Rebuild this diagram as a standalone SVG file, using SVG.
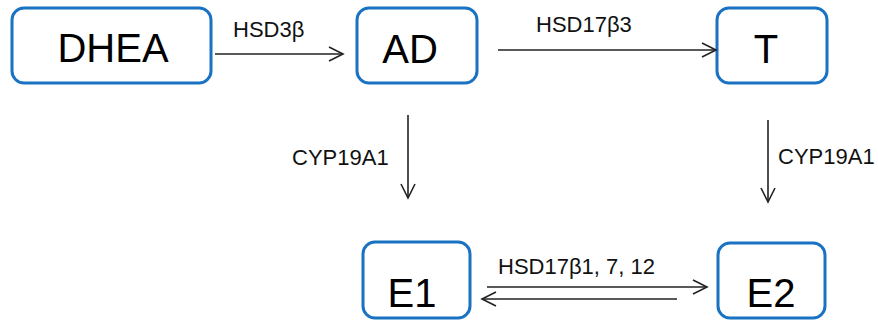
<svg xmlns="http://www.w3.org/2000/svg" width="878" height="320" viewBox="0 0 878 320">
<defs>
<style>
.box{fill:#fff;stroke:#1a72c2;stroke-width:3}
.nt{font-family:"Liberation Sans",Arial,sans-serif;font-size:40px;fill:#000;text-anchor:middle}
.lb{font-family:"Liberation Sans",Arial,sans-serif;font-size:22px;fill:#111}
.ln{stroke:#222;stroke-width:1.6;fill:none}
</style>
<marker id="ah" markerUnits="userSpaceOnUse" markerWidth="18" markerHeight="18" viewBox="0 0 18 18" refX="16" refY="9" orient="auto">
<path d="M2,2 L16,9 L2,16" fill="none" stroke="#222" stroke-width="1.6"/>
</marker>
</defs>
<g id="DHEA"><rect class="box" x="12" y="8" width="199" height="75" rx="12"/><text class="nt" x="113" y="62">DHEA</text></g>
<g id="AD"><rect class="box" x="357" y="8" width="120" height="75" rx="12"/><text class="nt" x="410" y="63">AD</text></g>
<g id="T"><rect class="box" x="717" y="8" width="110" height="75" rx="12"/><text class="nt" x="766" y="63">T</text></g>
<g id="E1"><rect class="box" x="363" y="242" width="107" height="76" rx="12"/><text class="nt" x="412" y="307">E1</text></g>
<g id="E2"><rect class="box" x="718" y="243" width="107" height="75" rx="12"/><text class="nt" x="771" y="307">E2</text></g>
<g id="connectors">
<line class="ln" x1="215" y1="54" x2="343" y2="54" marker-end="url(#ah)"/>
<text class="lb" x="233" y="37">HSD3β</text>
<line class="ln" x1="498" y1="50" x2="716" y2="50" marker-end="url(#ah)"/>
<text class="lb" x="536" y="32">HSD17β3</text>
<line class="ln" x1="408" y1="115" x2="408" y2="198" marker-end="url(#ah)"/>
<text class="lb" x="292" y="165">CYP19A1</text>
<line class="ln" x1="768" y1="120" x2="768" y2="202" marker-end="url(#ah)"/>
<text class="lb" x="778" y="164">CYP19A1</text>
<line class="ln" x1="487" y1="287" x2="707" y2="287" marker-end="url(#ah)"/>
<line class="ln" x1="677" y1="299" x2="482" y2="299" marker-end="url(#ah)"/>
<text class="lb" x="498" y="274">HSD17β1, 7, 12</text>
</g>
</svg>
